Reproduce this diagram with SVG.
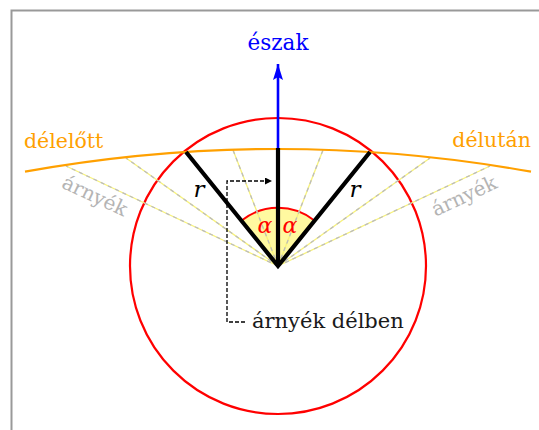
<svg xmlns="http://www.w3.org/2000/svg" width="539" height="430" viewBox="0 0 539 430">
<defs>
<style>
.t{font-family:"DejaVu Serif","Liberation Serif",serif}
.sh{stroke:#f7f27a;stroke-width:1.3;fill:none}
.shd{stroke:#bcbcbc;stroke-width:1.3;stroke-dasharray:4 4;fill:none}
.blk{stroke:#000;stroke-width:4.2;fill:none}
</style>
<marker id="ab" viewBox="0 0 16 10" refX="16" refY="5" markerWidth="16" markerHeight="10" markerUnits="userSpaceOnUse" orient="auto"><path d="M0,0 L16,5 L0,10 L3,5 Z" fill="#00f"/></marker>
<marker id="ak" viewBox="0 0 10 10" refX="10" refY="5" markerWidth="7" markerHeight="7" markerUnits="userSpaceOnUse" orient="auto"><path d="M0,0 L10,5 L0,10 Z" fill="#000"/></marker>
</defs>
<rect width="539" height="430" fill="#fff"/>
<g id="frame" stroke="#999" stroke-width="2" fill="none">
<path d="M11.5,430 V10.5 H539"/>
</g>
<g id="circle"><circle cx="278" cy="266" r="148" fill="none" stroke="#f00" stroke-width="2.2"/></g>
<g id="sector">
<path d="M278,266 L242,220.3 A58,58 0 0 1 314,220.3 Z" fill="#fff9a0"/>
<path d="M242,220.3 A58,58 0 0 1 314,220.3" fill="none" stroke="#f00" stroke-width="2"/>
</g>
<g id="connectors">
<g id="shadows">
<line class="sh" x1="278" y1="266" x2="233" y2="150"/><line class="shd" x1="278" y1="266" x2="233" y2="150"/>
<line class="sh" x1="278" y1="266" x2="126" y2="158"/><line class="shd" x1="278" y1="266" x2="126" y2="158"/>
<line class="sh" x1="278" y1="266" x2="66" y2="166"/><line class="shd" x1="278" y1="266" x2="66" y2="166"/>
<line class="sh" x1="278" y1="266" x2="323" y2="150"/><line class="shd" x1="278" y1="266" x2="323" y2="150"/>
<line class="sh" x1="278" y1="266" x2="430" y2="158"/><line class="shd" x1="278" y1="266" x2="430" y2="158"/>
<line class="sh" x1="278" y1="266" x2="490" y2="166"/><line class="shd" x1="278" y1="266" x2="490" y2="166"/>
</g>
<path id="sunpath" d="M25,171.7 Q278,126.3 531,171.7" fill="none" stroke="#ffa000" stroke-width="2.2"/>
<line id="north" x1="278" y1="149" x2="278" y2="64" stroke="#00f" stroke-width="2.6" marker-end="url(#ab)"/>
<path id="gnomon" class="blk" d="M186,152 L278,266 L370,152" stroke-miterlimit="10"/>
<line class="blk" x1="278" y1="266" x2="278" y2="148"/>
<path id="noonlead" d="M245,322 H227 V181 H272" fill="none" stroke="#000" stroke-width="1.3" stroke-dasharray="4 2" marker-end="url(#ak)"/>
</g>
<g id="labels" class="t">
<text x="278" y="50" font-size="21.5" fill="#00f" text-anchor="middle">észak</text>
<text x="24" y="148" font-size="20.5" fill="#ffa000">délelőtt</text>
<text x="531" y="147" font-size="20.5" fill="#ffa000" text-anchor="end">délután</text>
<text x="92" y="202" font-size="20" fill="#b4b4b4" text-anchor="middle" transform="rotate(25 92 202)">árnyék</text>
<text x="467" y="202" font-size="20" fill="#b4b4b4" text-anchor="middle" transform="rotate(-25 467 202)">árnyék</text>
<text x="199" y="197" font-size="23" font-style="italic" text-anchor="middle">r</text>
<text x="355" y="197" font-size="23" font-style="italic" text-anchor="middle">r</text>
<text x="265" y="233" font-size="22" font-style="italic" fill="#f00" text-anchor="middle">α</text>
<text x="290" y="233" font-size="22" font-style="italic" fill="#f00" text-anchor="middle">α</text>
<text x="252" y="328" font-size="21" fill="#1a1a1a">árnyék délben</text>
</g>
</svg>
